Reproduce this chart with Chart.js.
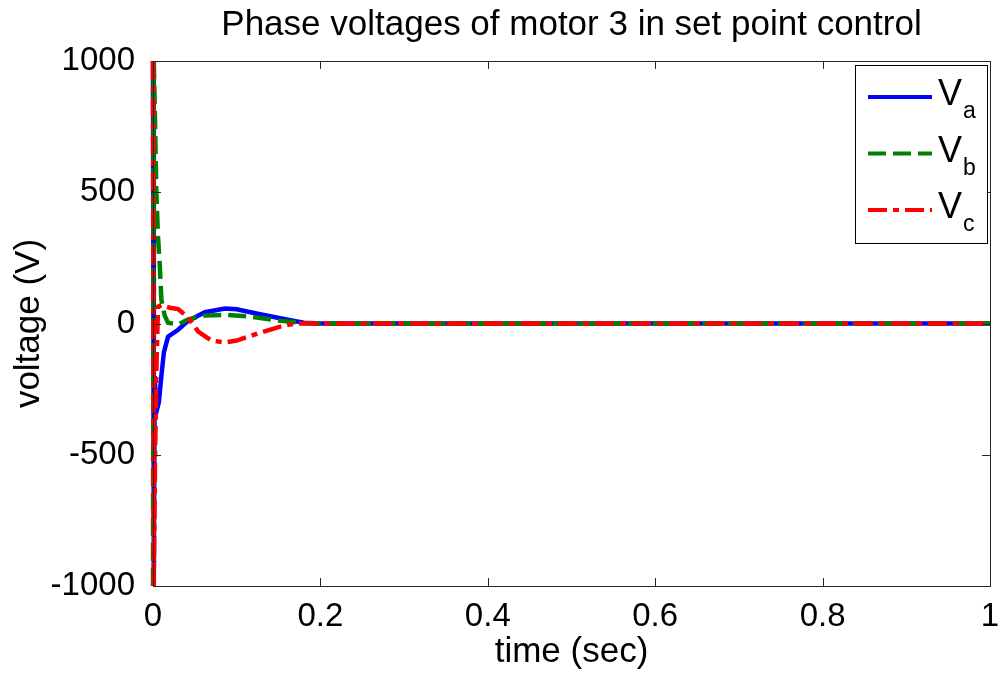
<!DOCTYPE html>
<html>
<head>
<meta charset="utf-8">
<script src="https://cdn.jsdelivr.net/npm/chart.js@4"></script>
<style>
  html, body { margin: 0; padding: 0; background: #fff; }
  #wrap { width: 998px; height: 675px; }
</style>
</head>
<body>
<div id="wrap"><canvas id="charts"></canvas></div>
<script>
// phase voltages (time in sec, voltage in V)
const timeA = [0, 0.001, 0.002, 0.004, 0.007, 0.010, 0.013, 0.018, 0.030, 0.042, 0.062, 0.086, 0.100, 0.125, 0.161, 0.180, 0.200, 0.400, 0.600, 0.800, 1.0]
const voltA = [1000, -1000, -200, -337, -300, -200, -110, -50, -24, 10, 43, 57, 54, 37, 14, 3, 0, 0, 0, 0, 0]

const timeB = [0, 0.0008, 0.002, 0.004, 0.006, 0.008, 0.010, 0.014, 0.018, 0.030, 0.042, 0.062, 0.086, 0.117, 0.153, 0.180, 0.200, 1.0]
const voltB = [-1000, 1000, 838, 499, 330, 227, 91, 30, 3, -4, 16, 30, 33, 26, 10, 2, 0, 0]

const timeC = [0, 0.0008, 0.0025, 0.004, 0.006, 0.010, 0.020, 0.030, 0.042, 0.054, 0.070, 0.086, 0.100, 0.125, 0.153, 0.170, 0.200, 1.0]
const voltC = [1000, -1000, -500, -180, 64, 70, 60, 55, 23, -31, -65, -72, -65, -38, -11, 0, 0, 0]

const xTicks = [0, 0.2, 0.4, 0.6, 0.8, 1]
const yTicks = [-1000, -500, 0, 500, 1000]

const chartTitle = 'Phase voltages of motor 3 in set point control'
const seriesNames = ['a', 'b', 'c']   // subscripts of V
const seriesColors = ['#0000ff', '#008000', '#ff0000']
const seriesDash = [[], [18, 7], [19, 6, 6, 6]]

const FONT = 'Liberation Sans, Arial, sans-serif'

function pairs(t, v) {
  return t.map((x, i) => ({ x: x, y: v[i] }))
}

// matlab style title, box, inward ticks and legend with subscripts
const matlabFrame = {
  id: 'matlabFrame',
  afterDatasetsDraw(chart) {
    const ctx = chart.ctx
    const a = chart.chartArea
    const xs = chart.scales.x
    const ys = chart.scales.y
    ctx.save()

    // title centred over the axes like matlab does
    ctx.fillStyle = '#000'
    ctx.font = '35px ' + FONT
    ctx.textAlign = 'center'
    ctx.textBaseline = 'alphabetic'
    ctx.fillText(chartTitle, (a.left + a.right) / 2, 35)

    ctx.strokeStyle = '#262626'
    ctx.lineWidth = 1
    ctx.beginPath()
    xTicks.forEach(t => {
      const px = Math.round(xs.getPixelForValue(t)) + 0.5
      ctx.moveTo(px, a.bottom); ctx.lineTo(px, a.bottom - 8)
      ctx.moveTo(px, a.top); ctx.lineTo(px, a.top + 8)
    })
    yTicks.forEach(v => {
      const py = Math.round(ys.getPixelForValue(v)) + 0.5
      ctx.moveTo(a.left, py); ctx.lineTo(a.left + 8, py)
      ctx.moveTo(a.right, py); ctx.lineTo(a.right - 8, py)
    })
    ctx.stroke()
    ctx.strokeRect(Math.round(a.left) + 0.5, Math.round(a.top) + 0.5,
                   Math.round(a.right - a.left), Math.round(a.bottom - a.top))

    // legend
    const lx = 855, ly = 65, lw = 132, lh = 178
    ctx.fillStyle = '#fff'
    ctx.fillRect(lx, ly, lw, lh)
    ctx.strokeStyle = '#000'
    ctx.strokeRect(lx + 0.5, ly + 0.5, lw, lh)
    seriesNames.forEach((s, i) => {
      const y = 97 + i * 56.5
      ctx.beginPath()
      ctx.setLineDash(seriesDash[i])
      ctx.strokeStyle = seriesColors[i]
      ctx.lineWidth = 4
      ctx.moveTo(868, y); ctx.lineTo(932, y)
      ctx.stroke()
      ctx.setLineDash([])
      ctx.fillStyle = '#000'
      ctx.textAlign = 'left'
      ctx.textBaseline = 'alphabetic'
      ctx.font = '36px ' + FONT
      ctx.fillText('V', 938, y + 8)
      ctx.font = '23px ' + FONT
      ctx.fillText(s, 963, y + 21)
    })
    ctx.restore()
  }
}

const datasets = [
  { data: pairs(timeA, voltA), borderColor: seriesColors[0], borderDash: seriesDash[0], order: 3 },
  { data: pairs(timeB, voltB), borderColor: seriesColors[1], borderDash: seriesDash[1], order: 2 },
  { data: pairs(timeC, voltC), borderColor: seriesColors[2], borderDash: seriesDash[2], order: 1 }
].map(d => Object.assign(d, {
  borderWidth: 4.5, pointRadius: 0, tension: 0, fill: false, clip: 4
}))

Chart.defaults.font.family = FONT
Chart.defaults.color = '#000'

new Chart(document.getElementById('charts'), {
  type: 'line',
  data: { datasets: datasets },
  options: {
    responsive: true,
    maintainAspectRatio: false,
    animation: false,
    layout: { padding: { left: 0, right: 8, top: 61, bottom: 0 } },
    plugins: {
      legend: { display: false },
      tooltip: { enabled: false },
      title: { display: false }
    },
    scales: {
      x: {
        type: 'linear',
        min: 0, max: 1,
        grid: { display: false },
        border: { display: false },
        afterBuildTicks: s => { s.ticks = xTicks.map(v => ({ value: v })) },
        ticks: {
          padding: 3,
          maxRotation: 0,
          font: { size: 33 },
          callback: v => String(parseFloat(v.toFixed(1)))
        },
        title: {
          display: true,
          text: 'time (sec)',
          font: { size: 35, lineHeight: 1.2 },
          padding: { top: 0, bottom: 2 }
        },
        afterFit: s => { s.height = 89; s.paddingLeft = 0; s.paddingRight = 0 }
      },
      y: {
        type: 'linear',
        min: -1000, max: 1000,
        grid: { display: false },
        border: { display: false },
        afterBuildTicks: s => { s.ticks = yTicks.map(v => ({ value: v })) },
        ticks: {
          padding: 10,
          font: { size: 33 },
          callback: v => String(v)
        },
        title: {
          display: true,
          text: 'voltage (V)',
          font: { size: 35, lineHeight: 1.2 },
          padding: { top: 8, bottom: 0 }
        },
        afterFit: s => { s.width = 153; s.paddingTop = 0; s.paddingBottom = 0 }
      }
    }
  },
  plugins: [matlabFrame]
})
</script>
</body>
</html>
